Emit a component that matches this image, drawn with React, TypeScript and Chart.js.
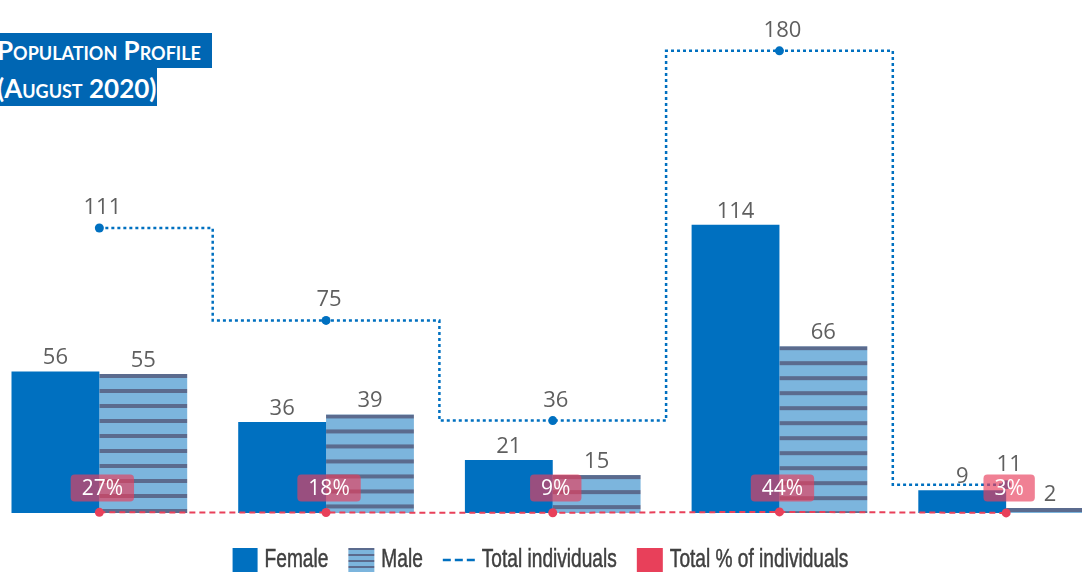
import React, { useEffect, useRef } from 'react';
import { Chart, registerables } from 'chart.js';

Chart.register(...registerables);

const categories = ['Group 1', 'Group 2', 'Group 3', 'Group 4', 'Group 5'];
const femaleValues = [56, 36, 21, 114, 9];
const maleValues = [55, 39, 15, 66, 2];
const totalValues = [111, 75, 36, 180, 11];
const percentValues = [0.27, 0.18, 0.09, 0.44, 0.03];
const legendLabels = ['Female', 'Male', 'Total individuals', 'Total % of individuals'];
const titleLines = ['Population Profile', '(August 2020)'];

const BLUE = '#0070c0';
const LIGHT = '#7cb5dd';
const DARK = '#5b6b8e';
const RED = '#e8405a';
const LABEL = '#5f5f5f';

function makeStripe(period: number, band: number): HTMLCanvasElement {
  const c = document.createElement('canvas');
  c.width = 8;
  c.height = period;
  const g = c.getContext('2d')!;
  g.fillStyle = LIGHT;
  g.fillRect(0, 0, 8, period);
  g.fillStyle = DARK;
  g.fillRect(0, 0, 8, band);
  return c;
}

const labelPlugin = {
  id: 'valueLabels',
  afterDatasetsDraw(chart: any) {
    const ctx: CanvasRenderingContext2D = chart.ctx;
    ctx.save();
    ctx.font = '22px "Open Sans", sans-serif';
    ctx.fillStyle = LABEL;
    ctx.textAlign = 'center';
    ctx.textBaseline = 'alphabetic';
    const barSets: [number, number[]][] = [[2, femaleValues], [3, maleValues]];
    barSets.forEach(([di, vals]) => {
      const meta = chart.getDatasetMeta(di);
      meta.data.forEach((el: any, j: number) => {
        ctx.fillText(String(vals[j]), el.x, el.y - 7);
      });
    });
    const tMeta = chart.getDatasetMeta(0);
    tMeta.data.forEach((el: any, j: number) => {
      ctx.fillText(String(totalValues[j]), el.x + 3, el.y - 14);
    });
    const pMeta = chart.getDatasetMeta(1);
    const base = chart.scales.y.getPixelForValue(0);
    ctx.font = '21px "Open Sans", sans-serif';
    pMeta.data.forEach((el: any, j: number) => {
      const txt = Math.round(percentValues[j] * 100) + '%';
      const w = ctx.measureText(txt).width + 22;
      const h = 27;
      const cx = el.x + 3;
      const cy = base - 25;
      ctx.fillStyle = 'rgba(232, 62, 92, 0.66)';
      ctx.beginPath();
      if ((ctx as any).roundRect) (ctx as any).roundRect(cx - w / 2, cy - h / 2, w, h, 4);
      else ctx.rect(cx - w / 2, cy - h / 2, w, h);
      ctx.fill();
      ctx.fillStyle = '#ffffff';
      ctx.textBaseline = 'middle';
      ctx.fillText(txt, cx, cy + 1);
      ctx.textBaseline = 'alphabetic';
    });
    ctx.restore();
  },
};

function makeLegendPlugin(legendPattern: CanvasPattern | null) {
  return {
    id: 'customLegend',
    afterDraw(chart: any) {
      const ctx: CanvasRenderingContext2D = chart.ctx;
      const kinds = ['box', 'pattern', 'line', 'box'];
      const colors = [BLUE, DARK, BLUE, RED];
      const swatchW = [25, 26, 32, 26];
      const sx = 0.765;
      const gapText = 7;
      const gapItem = 20;
      const cy = 560;
      ctx.save();
      ctx.font = '25px "Liberation Sans", Arial, sans-serif';
      const textW = legendLabels.map((t) => ctx.measureText(t).width * sx);
      let total = 0;
      legendLabels.forEach((_, i) => {
        total += swatchW[i] + gapText + textW[i];
        if (i > 0) total += gapItem;
      });
      let x = chart.width / 2 - total / 2;
      legendLabels.forEach((t, i) => {
        const k = kinds[i];
        if (k === 'box') {
          ctx.fillStyle = colors[i];
          ctx.fillRect(x, cy - 12, swatchW[i], 24);
        } else if (k === 'pattern') {
          if (legendPattern) {
            legendPattern.setTransform(new DOMMatrix().translate(0, cy - 12));
            ctx.fillStyle = legendPattern;
          } else ctx.fillStyle = LIGHT;
          ctx.fillRect(x, cy - 12, swatchW[i], 24);
        } else {
          ctx.strokeStyle = colors[i];
          ctx.lineWidth = 2.5;
          ctx.setLineDash([8, 4]);
          ctx.beginPath();
          ctx.moveTo(x, cy);
          ctx.lineTo(x + swatchW[i], cy);
          ctx.stroke();
          ctx.setLineDash([]);
        }
        x += swatchW[i] + gapText;
        ctx.save();
        ctx.translate(x, cy);
        ctx.scale(sx, 1);
        ctx.fillStyle = '#404040';
        ctx.strokeStyle = '#404040';
        ctx.lineWidth = 0.5;
        ctx.textAlign = 'left';
        ctx.textBaseline = 'middle';
        ctx.fillText(t, 0, 0);
        ctx.strokeText(t, 0, 0);
        ctx.restore();
        x += textW[i] + gapItem;
      });
      ctx.restore();
    },
  };
}

export default function App() {
  const ref = useRef<HTMLCanvasElement>(null);
  useEffect(() => {
    const canvas = ref.current!;
    const ctx = canvas.getContext('2d')!;
    const barStripe = makeStripe(15, 4);
    const legendPattern = ctx.createPattern(makeStripe(6, 2), 'repeat');

    const chart = new Chart(canvas, {
      type: 'bar',
      data: {
        labels: categories,
        datasets: [
          {
            type: 'line',
            label: legendLabels[2],
            data: totalValues,
            yAxisID: 'yLine',
            borderColor: BLUE,
            backgroundColor: BLUE,
            borderWidth: 2.5,
            borderDash: [3, 3],
            stepped: 'middle',
            pointRadius: 4.5,
            pointBackgroundColor: BLUE,
            pointBorderWidth: 0,
            fill: false,
            clip: false,
          } as any,
          {
            type: 'line',
            label: legendLabels[3],
            data: percentValues,
            yAxisID: 'y',
            borderColor: RED,
            backgroundColor: RED,
            borderWidth: 2,
            borderDash: [6, 4],
            pointRadius: 4.5,
            pointBackgroundColor: RED,
            pointBorderWidth: 0,
            fill: false,
            clip: false,
          } as any,
          {
            label: legendLabels[0],
            data: femaleValues,
            yAxisID: 'y',
            backgroundColor: BLUE,
            borderWidth: 0,
            categoryPercentage: 0.775,
            barPercentage: 1,
          },
          {
            label: legendLabels[1],
            data: maleValues,
            yAxisID: 'y',
            backgroundColor: (c: any) => {
              const p = c.chart.ctx.createPattern(barStripe, 'repeat');
              const ys = c.chart.scales && c.chart.scales.y;
              if (p && ys && c.type === 'data' && typeof c.raw === 'number') {
                const top = ys.getPixelForValue(c.raw);
                p.setTransform(new DOMMatrix().translate(0, top));
              }
              return p;
            },
            borderWidth: 0,
            categoryPercentage: 0.775,
            barPercentage: 1,
          } as any,
        ],
      },
      options: {
        animation: false,
        responsive: false,
        layout: { padding: { top: 20, right: 0, bottom: 59, left: 0 } },
        scales: {
          x: {
            display: false,
          },
          y: {
            display: true,
            position: 'left',
            min: 0,
            max: 195,
            grid: { display: false },
            border: { display: false },
            ticks: { display: false },
            afterFit: (s: any) => { s.width = 29; },
          },
          yLine: {
            display: false,
            min: 0,
            max: 192,
          },
        },
        plugins: {
          tooltip: { enabled: false },
          legend: { display: false },
        },
      } as any,
      plugins: [labelPlugin, makeLegendPlugin(legendPattern)],
    });
    return () => chart.destroy();
  }, []);

  const boxBase: React.CSSProperties = {
    position: 'absolute',
    left: 0,
    background: '#0066b3',
    color: '#ffffff',
    fontFamily: 'Lato, "Open Sans", sans-serif',
    fontWeight: 700,
    fontVariant: 'small-caps',
    fontSize: 26,
    whiteSpace: 'nowrap',
    overflow: 'hidden',
    zIndex: 2,
    boxSizing: 'border-box',
    textIndent: -3,
  };

  return (
    <div style={{ position: 'fixed', left: 0, top: 0, width: 1082, height: 572, overflow: 'hidden', background: '#ffffff' }}>
      <canvas
        ref={ref}
        width={1167}
        height={572}
        style={{ position: 'absolute', left: -43, top: 0, width: 1167, height: 572 }}
      />
      <div style={{ ...boxBase, top: 33, width: 212, height: 35, lineHeight: '35px' }}>{titleLines[0]}</div>
      <div style={{ ...boxBase, top: 68, width: 157, height: 38, lineHeight: '38px', paddingTop: 1 }}>{titleLines[1]}</div>
    </div>
  );
}
